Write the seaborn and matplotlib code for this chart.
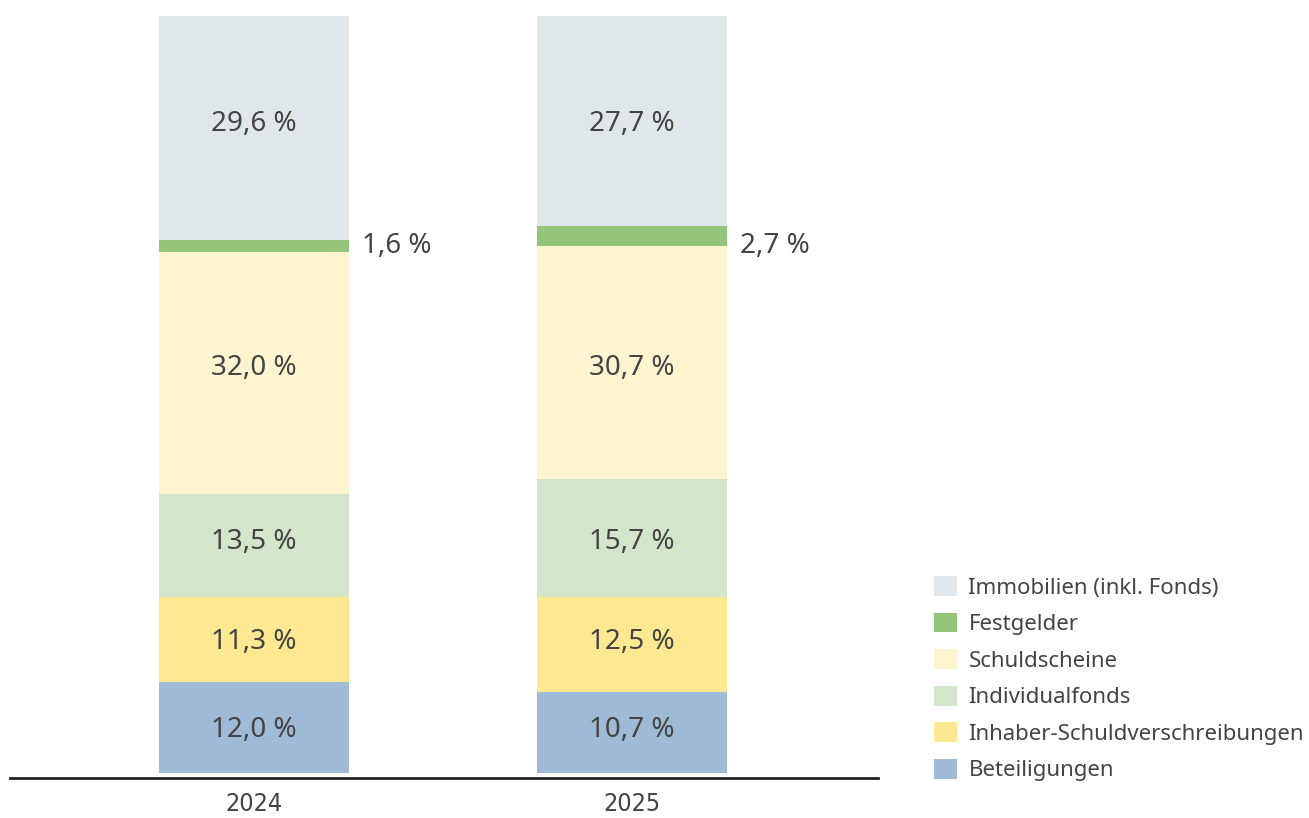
import matplotlib
matplotlib.use('Agg')
import matplotlib.pyplot as plt
from matplotlib import font_manager
from matplotlib.patches import Patch
import numpy as np
import pandas as pd
import seaborn as sns

# data
years = ['2024', '2025']
categories = ['Beteiligungen', 'Inhaber-Schuldverschreibungen', 'Individualfonds',
              'Schuldscheine', 'Festgelder', 'Immobilien (inkl. Fonds)']
beteiligungen = [12.0, 10.7]
inhaber = [11.3, 12.5]
individualfonds = [13.5, 15.7]
schuldscheine = [32.0, 30.7]
festgelder = [1.6, 2.7]
immobilien = [29.6, 27.7]
colors = ['#9fbad6', '#fee891', '#d3e5cb', '#fef4d0', '#92c57a', '#dfe7eb']

series = [beteiligungen, inhaber, individualfonds, schuldscheine, festgelder, immobilien]

sns.set_theme(style='white')
names = {f.name for f in font_manager.fontManager.ttflist}
main_font = 'Noto Sans' if 'Noto Sans' in names else 'DejaVu Sans'
plt.rcParams['font.family'] = [main_font, 'DejaVu Sans']
text_color = '#444444'

fig = plt.figure(figsize=(13.09, 8.18), dpi=100)
ax = fig.add_axes([10 / 1309, 40 / 818, 868 / 1309, 762 / 818])

bottom = np.zeros(len(years))
for cat, vals, col in zip(categories, series, colors):
    df = pd.DataFrame({'year': years, 'value': vals})
    sns.barplot(data=df, x='year', y='value', color=col, width=0.503,
                bottom=bottom.copy(), saturation=1, linewidth=0, ax=ax)
    # labels of one row sit at the same height in both columns
    centers = bottom + np.array(vals) / 2
    row_y = centers.mean()
    for i, v in enumerate(vals):
        label = f'{v:.1f} %'.replace('.', ',')
        if v < 5:
            ax.text(i + 0.286, bottom[0] + festgelder[0] / 2, label, ha='left',
                    va='center', fontsize=20, color=text_color)
        else:
            ax.text(i, row_y, label, ha='center', va='center',
                    fontsize=20, color=text_color)
    bottom += np.array(vals)

ax.set_xlim(-244 / 378, 624 / 378)
ax.set_ylim(-0.66, 100)
ax.set_xlabel('')
ax.set_ylabel('')
ax.set_yticks([])
ax.set_xticks([0, 1])
ax.set_xticklabels(years, fontsize=18, color=text_color, family='DejaVu Sans',
                   fontstretch='condensed')
ax.tick_params(axis='x', length=0, pad=10)
for s in ['top', 'right', 'left']:
    ax.spines[s].set_visible(False)
ax.spines['bottom'].set_color('#222222')
ax.spines['bottom'].set_linewidth(2)

handles = [Patch(facecolor=c, edgecolor='none', label=n)
           for n, c in zip(categories[::-1], colors[::-1])]
fig.legend(handles=handles, loc='upper left', bbox_to_anchor=(934 / 1309, 1 - 576 / 818),
           frameon=False, fontsize=16, handlelength=1.05, handleheight=1.0,
           handletextpad=0.5, labelspacing=0.63, borderpad=0, borderaxespad=0,
           labelcolor=text_color)

fig.savefig('out.png', dpi=100)
